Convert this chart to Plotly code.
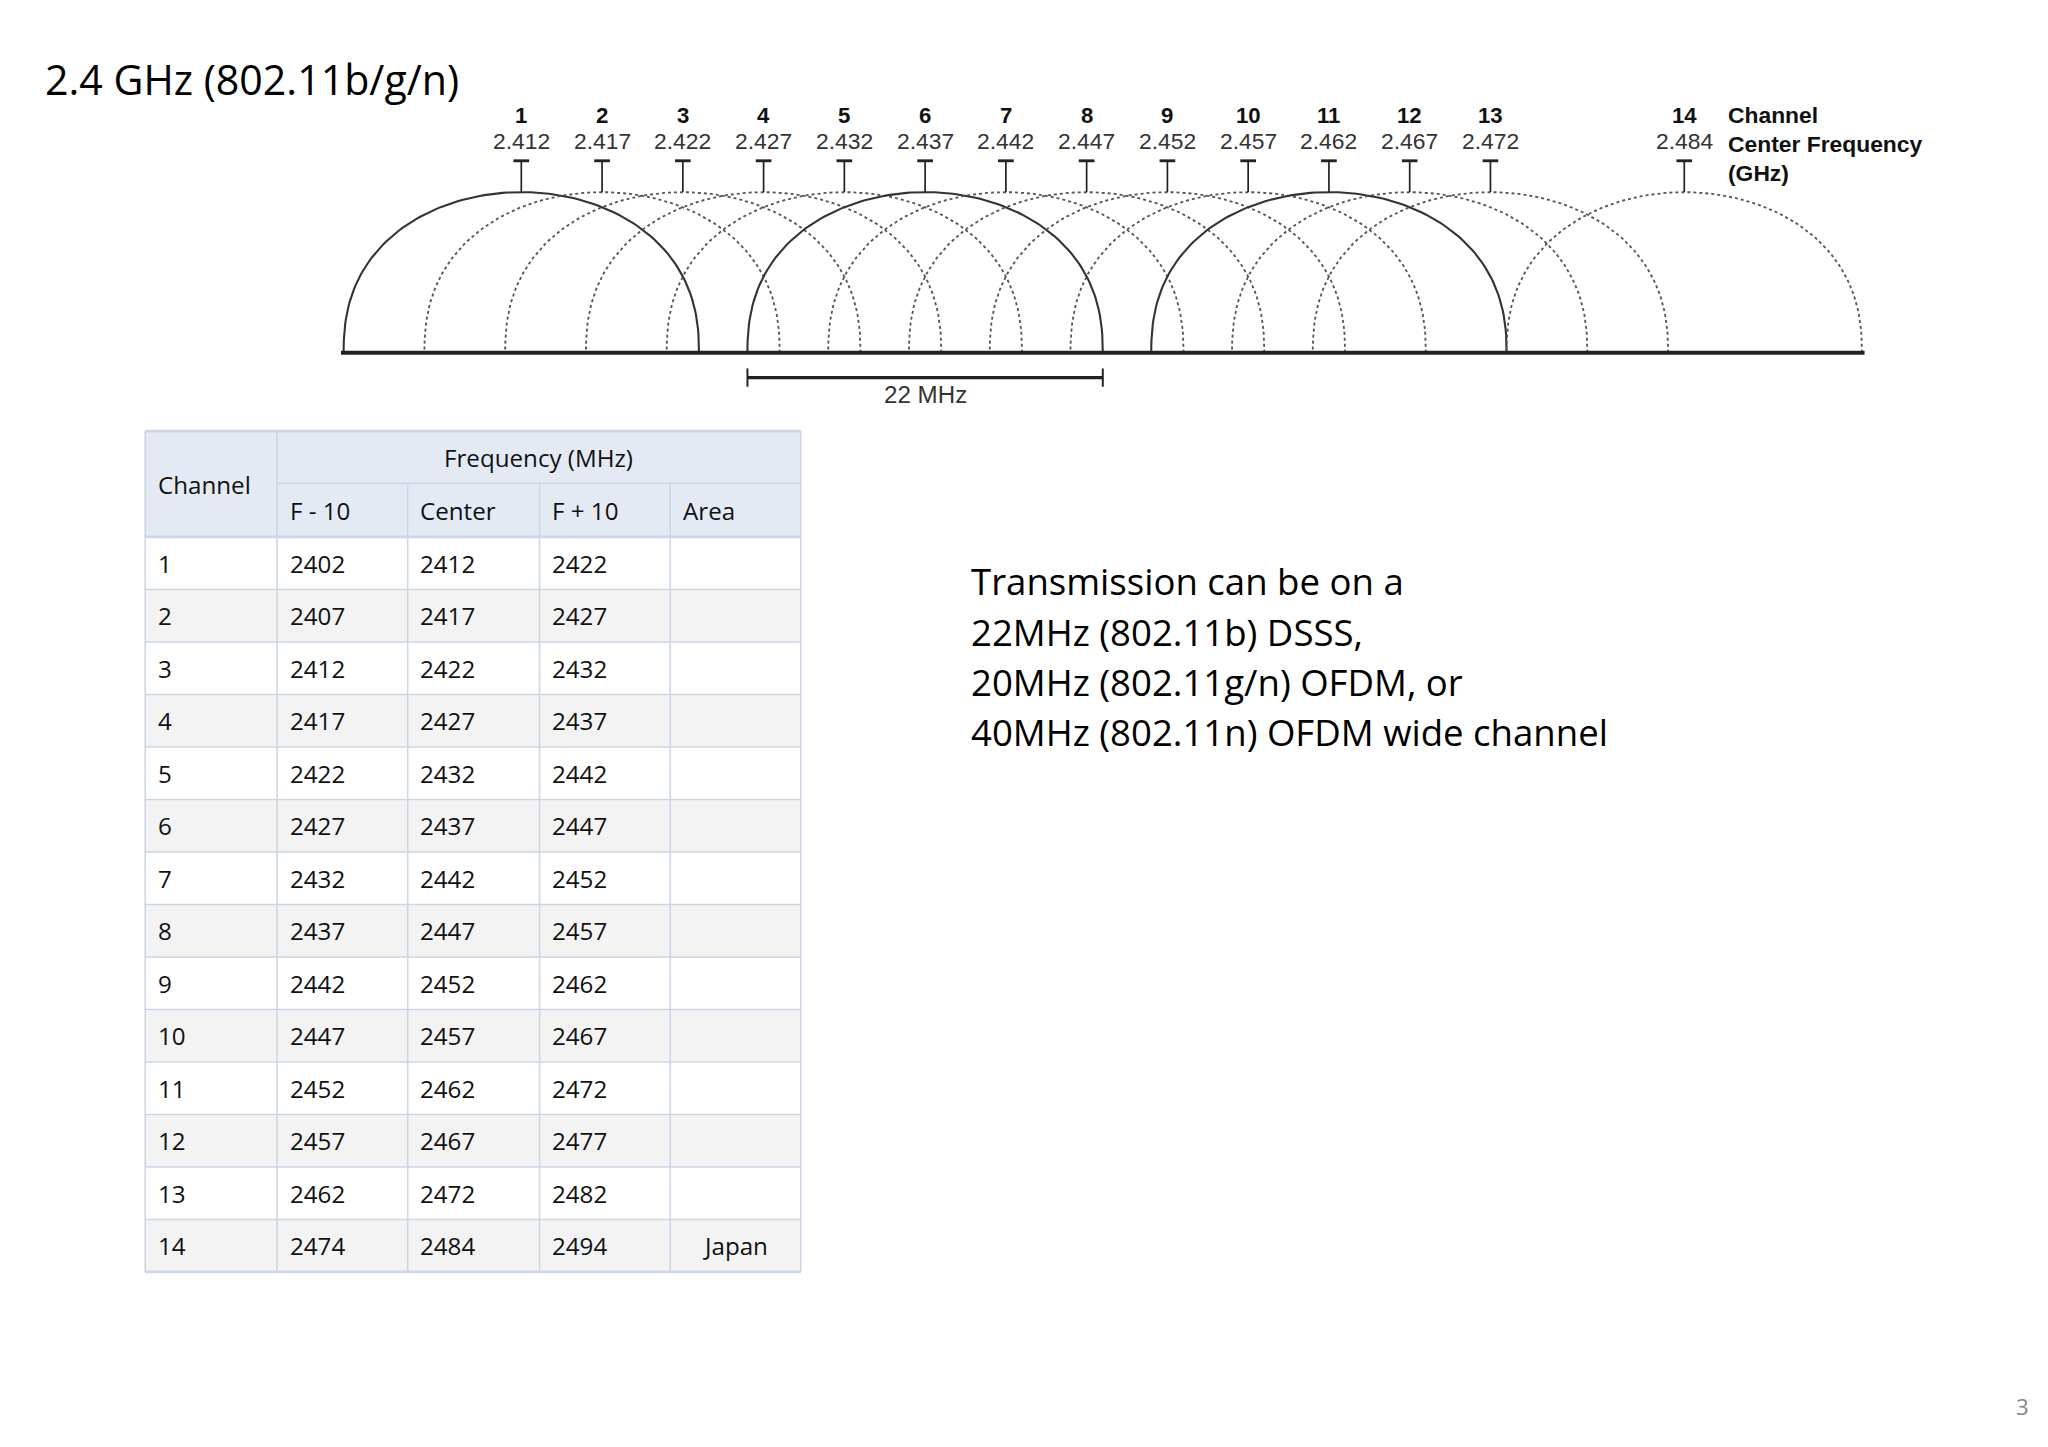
import numpy as np
import plotly.graph_objects as go

channels = [1, 2, 3, 4, 5, 6, 7, 8, 9, 10, 11, 12, 13, 14]
center_ghz = ["2.412", "2.417", "2.422", "2.427", "2.432", "2.437", "2.442", "2.447",
              "2.452", "2.457", "2.462", "2.467", "2.472", "2.484"]
f_minus = [2402, 2407, 2412, 2417, 2422, 2427, 2432, 2437, 2442, 2447, 2452, 2457, 2462, 2474]
center_mhz = [2412, 2417, 2422, 2427, 2432, 2437, 2442, 2447, 2452, 2457, 2462, 2467, 2472, 2484]
f_plus = [2422, 2427, 2432, 2437, 2442, 2447, 2452, 2457, 2462, 2467, 2472, 2477, 2482, 2494]
area = ["", "", "", "", "", "", "", "", "", "", "", "", "", "Japan"]
solid_channels = [1, 6, 11]
bandwidth_mhz = 22
text_lines = ["Transmission can be on a", "22MHz (802.11b) DSSS,",
              "20MHz (802.11g/n) OFDM, or", "40MHz (802.11n) OFDM wide channel"]

W, H = 2048, 1447
S = W / 1568.0  # reference-pixel to output-pixel scale
OFF = 6  # compensate page body margin

fig = go.Figure()

PX_PER_MHZ = (1141 - 399) / 60.0
def fx(mhz):
    return 399 + (mhz - 2412) * PX_PER_MHZ

BASE_Y, TOP_Y = 270, 147
t = np.linspace(0, np.pi, 121)
for ch, c in zip(channels, center_mhz):
    hw = bandwidth_mhz / 2 * PX_PER_MHZ
    xs = fx(c) + hw * np.cos(t)
    ys = BASE_Y - (BASE_Y - TOP_Y) * np.sin(t) ** 0.85
    solid = ch in solid_channels
    fig.add_trace(go.Scatter(x=xs, y=ys, mode="lines", hoverinfo="skip",
                             line=dict(color="#333333" if solid else "#555555",
                                       width=(1.6 if solid else 1.4) * S,
                                       dash="solid" if solid else "dot")))

shapes = []
annos = []
def L(x0, y0, x1, y1, w=1.3, c="#222222"):
    shapes.append(dict(type="line", x0=x0, y0=y0, x1=x1, y1=y1, line=dict(color=c, width=w * S)))
def T(x, y, text, size, color="#111111", bold=False, xanchor="center", family="Liberation Sans", yanchor="middle"):
    if bold:
        text = "<b>" + text + "</b>"
    annos.append(dict(x=x, y=y, text=text, showarrow=False, xanchor=xanchor, yanchor=yanchor,
                      font=dict(size=size * S, color=color, family=family)))

for ch, c, g in zip(channels, center_mhz, center_ghz):
    x = fx(c)
    T(x, 88, str(ch), 17, bold=True)
    T(x, 108, g, 17.5, color="#333333")
    L(x, 123, x, 147, 1.3)
    L(x - 6, 123, x + 6, 123, 2.2)
T(1321, 88, "Channel", 17.5, bold=True, xanchor="left")
T(1321, 110, "Center Frequency", 17.5, bold=True, xanchor="left")
T(1321, 132, "(GHz)", 17.5, bold=True, xanchor="left")

L(fx(2412) - 11 * PX_PER_MHZ - 2, BASE_Y, fx(2484) + 11 * PX_PER_MHZ + 2, BASE_Y, 3)
bx0, bx1 = fx(2437) - 11 * PX_PER_MHZ, fx(2437) + 11 * PX_PER_MHZ
L(bx0, 289, bx1, 289, 2.6)
L(bx0, 282, bx0, 296, 1.5)
L(bx1, 282, bx1, 296, 1.5)
T((bx0 + bx1) / 2, 302, "22 MHz", 18.5, color="#333333")

T(33, 60, "2.4 GHz (802.11b/g/n)", 31.5, color="#000000", xanchor="left", family="Open Sans")

col_x = [111, 212, 312, 413, 513, 613]
hdr_top, hdr_mid, body_top, row_h = 330, 370, 411, 40.2
border = "#CDD6E4"
hdr_fill = "#E4EAF4"
shapes.append(dict(type="rect", x0=col_x[0], x1=col_x[-1], y0=hdr_top, y1=body_top,
                   fillcolor=hdr_fill, line=dict(width=0), layer="below"))
for i in range(len(channels)):
    y0 = body_top + i * row_h
    fill = "#FFFFFF" if i % 2 == 0 else "#F3F3F3"
    shapes.append(dict(type="rect", x0=col_x[0], x1=col_x[-1], y0=y0, y1=y0 + row_h,
                       fillcolor=fill, line=dict(width=0), layer="below"))
bottom = body_top + len(channels) * row_h
L(col_x[0], hdr_top, col_x[-1], hdr_top, 2, border)
L(col_x[1], hdr_mid, col_x[-1], hdr_mid, 1.2, border)
for i in range(len(channels) + 1):
    yy = body_top + i * row_h
    L(col_x[0], yy, col_x[-1], yy, 1.2 if 0 < i < len(channels) else 2, border)
for j, xx in enumerate(col_x):
    if j in (0, 1, 5):
        L(xx, hdr_top, xx, bottom, 1.2, border)
    else:
        L(xx, hdr_mid, xx, bottom, 1.2, border)

TF = "Open Sans"
TS = 18.5
T(119, (hdr_top + body_top) / 2, "Channel", TS, xanchor="left", family=TF)
T((col_x[1] + col_x[-1]) / 2, (hdr_top + hdr_mid) / 2, "Frequency (MHz)", TS, family=TF)
for j, h in enumerate(["F - 10", "Center", "F + 10", "Area"]):
    T(col_x[j + 1] + 8, (hdr_mid + body_top) / 2, h, TS, xanchor="left", family=TF)
for i in range(len(channels)):
    yc = body_top + (i + 0.5) * row_h
    T(119, yc, str(channels[i]), TS, xanchor="left", family=TF)
    T(col_x[1] + 8, yc, str(f_minus[i]), TS, xanchor="left", family=TF)
    T(col_x[2] + 8, yc, str(center_mhz[i]), TS, xanchor="left", family=TF)
    T(col_x[3] + 8, yc, str(f_plus[i]), TS, xanchor="left", family=TF)
    if area[i]:
        T((col_x[4] + col_x[5]) / 2, yc, area[i], TS, family=TF)

for k, line in enumerate(text_lines):
    T(742, 445 + k * 38.5, line, 28, color="#000000", xanchor="left", family=TF)

T(1548, 1077, "3", 17, color="#888888", family=TF)

fig.update_layout(
    width=W, height=H, margin=dict(l=0, r=0, t=0, b=0),
    paper_bgcolor="white", plot_bgcolor="white", showlegend=False,
    xaxis=dict(range=[OFF, 1568 + OFF], visible=False, fixedrange=True),
    yaxis=dict(range=[1108 + OFF, OFF], visible=False, fixedrange=True),
    shapes=shapes, annotations=annos,
)
fig.write_html("out.html")
